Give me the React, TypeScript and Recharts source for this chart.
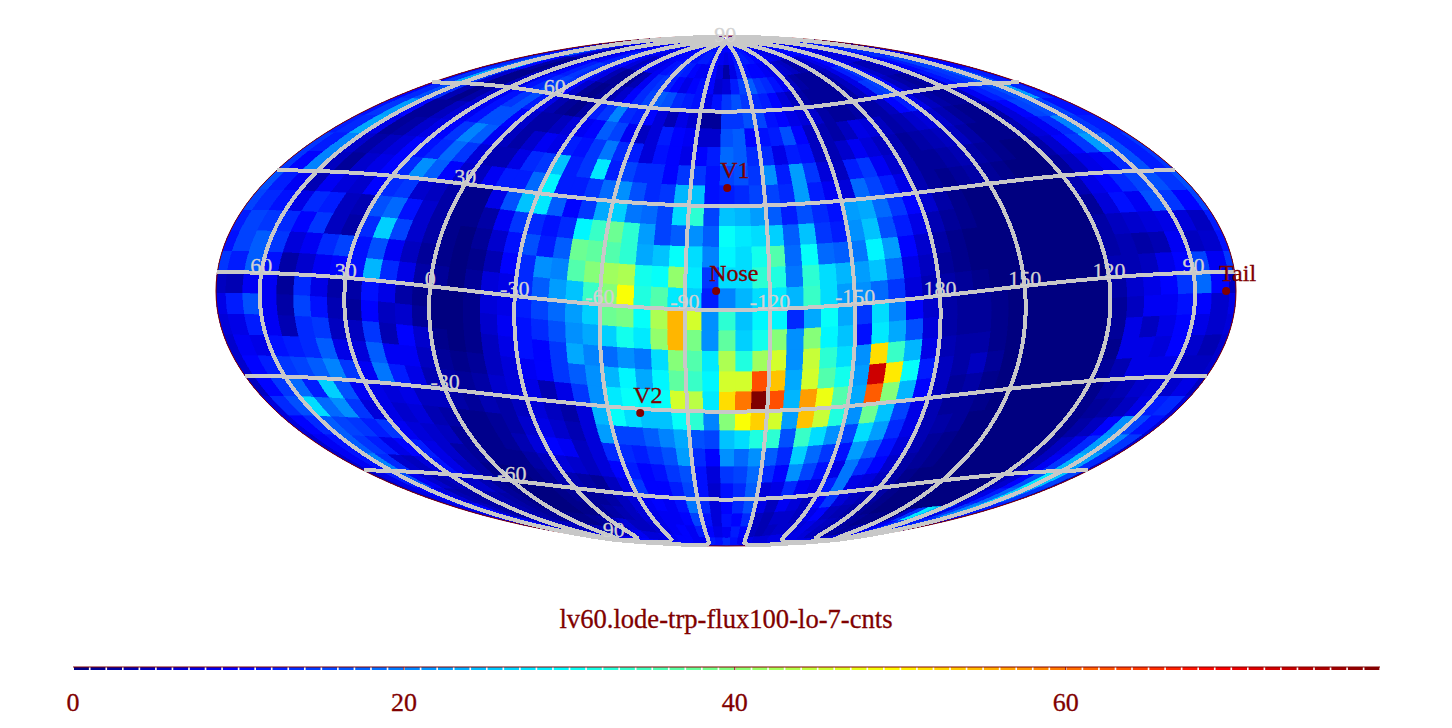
import { Bar, BarChart, Cell, ReferenceLine, Scatter, ScatterChart, XAxis, YAxis } from 'recharts'

const PAGE_W = 1452
const PAGE_H = 728
const UNIT = 255 // pixels per map unit, the ellipse is 4 x 2 units
const CENTER_Y = 291
const LON0 = -104.5
const TILT = (5.4 * Math.PI) / 180
const MAX_COUNT = 79

const DARK_RED = '#800000'
const GRID_GRAY = '#c8c8c8'
const SERIF = '"Liberation Serif", "Times New Roman", serif'

// counts per 6x6 degree bin, top row lat 90..84, first column lon 78..72, going left to right in the picture
const ROWS_NORTH = [
  [10,10,10,11,11,10,10,9,9,9,9,10,10,11,11,11,10,10,10,10, 10,10,10,11,11,11,11,11,11,10,10,10,11,11,11,11,10,10,10,10,10, 10,10,10,10,10,11,11,11,10,10,10,10,11,11,11,11,11,10,10],
  [9,10,12,14,13,10,7,6,7,8,9,10,12,13,11,9,8,9,10,10, 10,10,11,11,11,12,12,11,10,9,8,9,11,12,12,11,10,10,9,9,8, 8,8,9,10,10,11,11,10,9,9,9,10,11,11,12,12,11,10,9],
  [8,11,14,20,16,8,4,3,5,8,10,12,13,12,10,7,5,7,10,8, 9,11,12,13,12,10,9,9,10,7,3,8,12,11,10,10,9,8,7,6,5, 3,4,5,6,8,10,11,9,8,7,8,9,10,11,13,13,12,11,9],
  [8,13,18,28,10,3,1,3,6,10,12,14,13,11,8,4,2,2,2,4, 9,13,14,12,10,8,10,11,10,6,7,12,15,17,14,13,11,9,5,3,2, 2,2,3,5,8,12,14,10,6,4,4,6,9,10,12,15,15,13,10],
  [9,14,23,14,6,1,1,5,8,11,13,15,14,10,6,2,1,2,4,6, 10,13,15,17,16,13,12,11,8,11,14,16,14,13,12,10,7,5,3,2,2, 2,2,3,5,8,14,15,10,5,3,2,3,7,11,13,14,17,16,12],
  [10,13,16,13,4,1,3,6,9,11,14,16,12,8,4,2,1,3,12,14, 20,13,12,10,7,4,8,6,2,2,14,14,16,15,11,10,8,7,6,3,2, 2,3,3,3,5,10,12,8,5,3,2,2,5,9,12,14,16,22,13],
  [11,14,22,10,2,2,5,7,9,11,16,16,10,6,3,3,5,7,9,10, 17,15,9,5,7,12,10,9,6,6,16,17,10,11,12,16,10,5,4,3,5, 8,7,5,3,4,6,7,6,4,2,1,1,3,7,10,15,16,15,11],
  [12,13,23,8,2,3,6,8,10,14,20,17,9,5,3,6,9,8,12,11, 14,19,13,12,7,11,10,8,10,12,18,17,13,13,8,12,11,5,4,6,9, 7,5,4,2,3,4,5,5,3,1,1,1,4,7,9,13,20,14,12],
  [14,12,20,6,3,5,7,10,11,13,18,14,7,4,4,8,13,14,25,12, 14,28,12,15,13,13,10,14,14,11,15,16,14,21,12,22,14,7,5,12,14, 9,6,4,2,2,3,4,3,2,1,0,0,3,6,10,14,22,16,12],
  [14,10,20,5,2,6,8,10,13,21,17,10,6,5,9,12,12,18,29,12, 12,14,18,21,16,13,14,24,25,11,12,13,15,15,13,22,12,9,7,18,15, 12,8,4,2,1,2,3,2,1,0,0,0,2,5,8,9,13,16,12],
  [16,12,9,4,9,7,6,10,13,14,6,5,3,1,1,8,16,25,28,17, 10,14,23,26,19,18,15,27,33,15,25,24,22,17,12,16,13,11,22,23,18, 14,10,6,3,1,0,0,0,0,0,0,0,4,8,10,13,15,16,14],
  [15,13,11,8,13,12,5,4,16,18,11,6,3,1,1,3,9,14,13,11, 13,29,34,38,33,22,15,17,21,17,30,28,27,26,17,25,14,12,21,25,16, 12,8,4,2,1,0,0,0,0,0,0,0,2,7,11,9,16,14,10],
  [12,15,14,13,10,14,5,3,13,26,15,6,3,1,0,2,6,11,16,12, 17,38,37,36,33,23,25,30,27,20,29,27,31,36,18,30,18,17,19,29,22, 10,6,3,1,0,0,0,0,0,0,0,0,3,5,6,7,8,7,5],
  [11,15,17,14,7,9,13,15,11,16,9,5,2,1,0,1,4,10,13,21, 20,36,40,42,43,31,30,41,28,14,27,27,33,32,19,33,27,24,22,25,18, 8,5,2,1,0,0,0,0,0,0,0,0,3,4,3,4,9,5,6],
  [14,12,17,11,3,6,9,10,11,24,13,8,3,2,0,2,7,8,13,17, 22,25,34,40,49,32,36,28,26,12,20,24,27,28,24,34,27,22,21,18,14, 7,4,3,2,1,0,0,0,0,0,0,0,4,4,5,8,10,15,9],
]

const ROWS_SOUTH = [
  [5,4,9,9,2,13,8,3,3,11,8,3,1,0,0,1,7,8,12,15, 18,22,26,38,39,30,43,55,46,21,33,25,29,29,13,23,30,23,14,27,20, 10,6,3,2,2,1,0,0,0,0,0,0,3,6,8,10,14,18,10],
  [8,12,16,9,3,15,11,4,2,10,5,6,2,0,0,1,6,9,11,13, 16,21,23,26,31,28,41,55,39,21,37,26,31,40,21,40,29,25,11,28,23, 16,7,3,2,2,1,0,0,0,0,0,0,2,5,9,9,11,10,6],
  [7,8,12,9,4,13,14,5,5,14,4,10,6,1,0,1,5,8,11,10, 14,23,20,18,21,19,27,40,36,28,43,32,42,46,21,45,33,27,21,52,34, 24,8,4,3,3,1,0,0,0,0,0,0,2,8,5,8,10,8,6],
  [6,9,8,11,12,13,17,8,7,17,9,9,5,2,1,2,5,7,9,10, 14,17,21,24,29,23,29,37,34,29,46,46,63,54,23,46,36,31,22,73,51, 30,12,5,3,5,2,0,0,0,0,0,0,1,8,8,7,10,6,4],
  [6,10,12,14,15,17,20,14,9,19,12,8,4,3,2,3,6,7,8,4, 8,14,21,28,30,29,30,46,44,28,52,60,79,63,24,57,48,36,23,62,40, 24,10,5,2,3,1,0,0,0,0,0,0,2,4,8,8,8,5,5],
  [5,10,14,18,12,26,16,9,8,7,8,5,5,3,2,4,3,5,7,5, 3,7,24,30,27,25,25,30,33,20,40,49,53,46,22,54,45,32,21,38,25, 15,8,4,2,2,1,0,0,0,0,0,0,1,3,4,6,7,6,8],
  [7,13,16,27,18,21,14,7,8,6,7,4,3,1,1,2,3,6,8,6, 4,7,22,15,15,17,20,23,16,15,25,27,32,33,16,34,27,21,15,27,22, 13,8,4,3,2,0,0,0,0,0,0,0,1,2,3,5,8,12,13],
  [7,10,13,17,15,14,12,14,9,7,6,5,2,1,1,2,4,7,10,9, 5,7,13,13,12,14,16,22,13,10,21,18,21,17,13,26,18,14,11,22,17, 11,7,4,2,1,0,0,0,0,0,0,0,1,3,5,10,21,15,11],
  [6,9,11,17,14,12,8,10,12,8,6,3,2,1,1,1,3,5,7,6, 5,7,10,12,10,11,14,16,11,7,14,15,18,13,10,21,15,11,8,19,13, 10,6,3,2,1,0,0,0,0,0,0,0,2,5,8,13,22,20,14],
  [6,9,11,20,13,6,5,7,11,8,5,3,1,0,0,1,2,4,4,3, 2,5,8,14,10,10,12,15,11,6,11,13,17,7,8,13,9,8,12,19,8, 7,5,3,1,0,0,0,0,0,0,0,0,3,5,9,14,24,22,13],
  [5,8,12,16,9,6,4,5,6,6,4,2,1,0,0,0,1,2,2,2, 3,5,7,9,10,9,11,19,13,7,10,13,16,8,5,9,7,5,10,14,7, 5,4,3,1,0,0,0,0,0,0,0,0,4,6,10,16,28,25,15],
  [5,8,10,10,7,4,3,3,4,4,3,2,1,0,0,0,1,1,2,3, 4,5,7,8,9,9,10,15,11,7,11,10,13,5,4,6,6,5,8,10,5, 4,3,2,1,0,0,0,0,0,0,0,0,5,8,12,18,26,22,14],
  [6,8,12,18,10,5,3,3,4,4,3,2,2,1,1,1,2,3,5,7, 5,5,6,8,9,10,9,12,10,8,9,12,10,5,4,5,6,6,7,8,6, 5,4,3,2,1,1,0,0,6,14,28,24,16,8,14,20,24,18,12],
  [8,10,12,14,12,9,6,5,5,5,5,5,5,4,4,4,5,6,8,9, 7,7,8,9,10,10,9,9,12,11,13,11,9,8,7,7,8,8,8,8,7, 5,4,3,3,2,3,4,6,8,10,14,16,15,12,12,14,16,14,10],
  [10,11,12,12,11,10,9,8,8,8,8,8,8,8,8,8,9,9,10,10, 10,10,10,10,11,11,11,11,11,11,11,11,10,10,9,9,9,9,9,8,8, 8,7,6,6,6,7,7,8,9,10,10,11,11,11,11,12,12,11,11],
]

const GRID_LATS = [-60, -30, 0, 30, 60]
const GRID_LONS = [-150, -120, -90, -60, -30, 0, 30, 60, 90, 120, 150, 180]
const LON_LABELS = [60, 30, 0, -30, -60, -90, -120, -150, 180, 150, 120, 90]
const LAT_LABELS = [
  { text: '90', lon: 0, lat: 89.9 },
  { text: '60', lon: 0, lat: 60 },
  { text: '30', lon: 0, lat: 30 },
  { text: '-30', lon: 0, lat: -30 },
  { text: '-60', lon: 0, lat: -60 },
  { text: '90', lon: 0, lat: -86.5 },
]
const MARKERS = [
  { name: 'V1', lon: -105, lat: 35.4 },
  { name: 'Nose', lon: -101, lat: 5.4 },
  { name: 'V2', lon: -72, lat: -31.3 },
  { name: 'Tail', lon: 79, lat: -5.4 },
]
const COLORBAR_TICKS = [0, 20, 40, 60]
const COLORBAR_LEVELS = Array.from({ length: MAX_COUNT }, (_, i) => ({ level: i + 0.5, h: 1 }))

const TITLE = 'lv60.lode-trp-flux100-lo-7-cnts'

function jet(t: number) {
  const c = (v: number) => Math.round(255 * Math.max(0, Math.min(1, v)))
  const r = 1.5 - Math.abs(4 * t - 3)
  const g = 1.5 - Math.abs(4 * t - 2)
  const b = 1.5 - Math.abs(4 * t - 1)
  return `rgb(${c(r)},${c(g)},${c(b)})`
}

// grid lon/lat to map lambda/phi, the grid is tilted about the horizontal axis
function toMap(lon: number, lat: number) {
  const dl = ((lon - LON0) * Math.PI) / 180
  const p = (lat * Math.PI) / 180
  const x = Math.cos(p) * Math.cos(dl)
  const y = Math.cos(p) * Math.sin(dl)
  const z = Math.sin(p)
  const x2 = x * Math.cos(TILT) + z * Math.sin(TILT)
  const z2 = -x * Math.sin(TILT) + z * Math.cos(TILT)
  return { lam: Math.atan2(y, x2), phi: Math.asin(Math.max(-1, Math.min(1, z2))) }
}

function mollweide(lam: number, phi: number) {
  let th = phi
  if (Math.abs(phi) > 1.5707) {
    th = Math.sign(phi) * (Math.PI / 2)
  } else {
    for (let i = 0; i < 40; i++) {
      const d = (2 * th + Math.sin(2 * th) - Math.PI * Math.sin(phi)) / (2 + 2 * Math.cos(2 * th) + 1e-9)
      th -= d
      if (Math.abs(d) < 1e-7) break
    }
  }
  return { x: (-2 * lam * Math.cos(th)) / Math.PI, y: Math.sin(th) }
}

function project(lon: number, lat: number) {
  const m = toMap(lon, lat)
  return mollweide(m.lam, m.phi)
}

function cellRing(lonA: number, lonB: number, latA: number, latB: number) {
  const ring: [number, number][] = []
  const n = 3
  for (let i = 0; i < n; i++) ring.push([lonA + ((lonB - lonA) * i) / n, latA])
  for (let i = 0; i < n; i++) ring.push([lonB, latA + ((latB - latA) * i) / n])
  for (let i = 0; i < n; i++) ring.push([lonB + ((lonA - lonB) * i) / n, latB])
  for (let i = 0; i < n; i++) ring.push([lonA, latB + ((latA - latB) * i) / n])
  return ring
}

function buildCells() {
  const out: { x: number; y: number; count: number; verts: { x: number; y: number }[] }[] = []
  const rows = [...ROWS_NORTH, ...ROWS_SOUTH]
  rows.forEach((row, r) => {
    const latA = 90 - 6 * r
    const latB = latA - 6
    row.forEach((count, k) => {
      const lonA = 78 - 6 * k
      const lonB = lonA - 6
      const ring = cellRing(lonA, lonB, latA, latB).map(([lo, la]) => toMap(lo, la))
      const lams = ring.map((m) => m.lam)
      const straddles = Math.max(...lams) - Math.min(...lams) > Math.PI
      const variants = straddles
        ? [
            ring.map((m) => ({ lam: m.lam > 0 ? m.lam : Math.PI, phi: m.phi })),
            ring.map((m) => ({ lam: m.lam < 0 ? m.lam : -Math.PI, phi: m.phi })),
          ]
        : [ring]
      variants.forEach((v) => {
        const verts = v.map((m) => mollweide(m.lam, m.phi))
        const x = verts.reduce((s, p) => s + p.x, 0) / verts.length
        const y = verts.reduce((s, p) => s + p.y, 0) / verts.length
        out.push({ x, y, count, verts })
      })
    })
  })
  return out
}

const cellData = buildCells()
const outlineData = Array.from({ length: 181 }, (_, i) => {
  const a = (i / 180) * 2 * Math.PI
  return { x: 2 * Math.cos(a), y: Math.sin(a) }
})
const latLines = GRID_LATS.map((lat) =>
  Array.from({ length: 145 }, (_, i) => project(LON0 + 180 - 2.5 * i, lat)),
)
const lonLines = GRID_LONS.map((lon) =>
  Array.from({ length: 91 }, (_, i) => project(lon, -90 + 2 * i)),
)
const lonLabelData = LON_LABELS.map((lon) => ({ ...project(lon, 0), text: String(lon) }))
const latLabelData = LAT_LABELS.map((l) => ({ ...project(l.lon, l.lat), text: l.text }))
const markerData = MARKERS.map((m) => ({ ...project(m.lon, m.lat), name: m.name }))

const gridLine = { stroke: GRID_GRAY, strokeWidth: 4, shapeRendering: 'crispEdges' }

function CellShape(props: any) {
  const { cx, cy, payload } = props
  const pts = payload.verts
    .map((v: { x: number; y: number }) => `${cx + (v.x - payload.x) * UNIT},${cy - (v.y - payload.y) * UNIT}`)
    .join(' ')
  const fill = jet(payload.count / MAX_COUNT)
  return <polygon points={pts} fill={fill} stroke={fill} strokeWidth={0.6} shapeRendering="crispEdges" />
}

const NoDot = () => <g />

function GridLabel(props: any) {
  const { cx, cy, payload } = props
  return (
    <text x={cx} y={cy} textAnchor="middle" fill="#d2d2d2" stroke="#d2d2d2" strokeWidth={0.3} fontFamily={SERIF} fontSize={22}>
      {payload.text}
    </text>
  )
}

function Marker(props: any) {
  const { cx, cy, payload } = props
  return (
    <g>
      <circle cx={cx} cy={cy} r={4} fill={DARK_RED} />
      <text x={cx - 7} y={cy - 10} fill={DARK_RED} stroke={DARK_RED} strokeWidth={0.3} fontFamily={SERIF} fontSize={24}>
        {payload.name}
      </text>
    </g>
  )
}

export default function App() {
  const xSpan = PAGE_W / 2 / UNIT
  return (
    <div style={{ position: 'absolute', left: 0, top: 0, width: PAGE_W, height: PAGE_H, background: '#fff', overflow: 'hidden' }}>
      <ScatterChart width={PAGE_W} height={PAGE_H} margin={{ top: 0, right: 0, bottom: 0, left: 0 }}>
        <XAxis hide type="number" dataKey="x" domain={[-xSpan, xSpan]} allowDataOverflow />
        <YAxis hide type="number" dataKey="y" domain={[(CENTER_Y - PAGE_H) / UNIT, CENTER_Y / UNIT]} allowDataOverflow />
        <Scatter data={cellData} shape={CellShape} isAnimationActive={false} />
        <Scatter data={outlineData} line={{ stroke: DARK_RED, strokeWidth: 1 }} shape={NoDot} isAnimationActive={false} />
        {latLines.map((d, i) => (
          <Scatter key={`lat${i}`} data={d} line={gridLine} shape={NoDot} isAnimationActive={false} />
        ))}
        {lonLines.map((d, i) => (
          <Scatter key={`lon${i}`} data={d} line={gridLine} shape={NoDot} isAnimationActive={false} />
        ))}
        <Scatter data={lonLabelData} shape={GridLabel} isAnimationActive={false} />
        <Scatter data={latLabelData} shape={GridLabel} isAnimationActive={false} />
        <Scatter data={markerData} shape={Marker} isAnimationActive={false} />
      </ScatterChart>

      <div style={{ position: 'absolute', left: 0, top: 604, width: PAGE_W, textAlign: 'center', color: DARK_RED, fontFamily: SERIF, fontSize: 26.6, WebkitTextStroke: '0.3px #800000' }}>
        {TITLE}
      </div>

      <div style={{ position: 'absolute', left: 0, top: 660 }}>
        <BarChart width={PAGE_W} height={68} data={COLORBAR_LEVELS} margin={{ top: 7, right: 72, bottom: 0, left: 73 }} barCategoryGap={0}>
          <XAxis
            type="number"
            dataKey="level"
            domain={[0, MAX_COUNT]}
            ticks={COLORBAR_TICKS}
            interval={0}
            height={58}
            axisLine={false}
            tickLine={false}
            tickMargin={17}
            tick={{ fill: DARK_RED, stroke: DARK_RED, strokeWidth: 0.3, fontFamily: SERIF, fontSize: 26 }}
          />
          <YAxis hide domain={[0, 1]} />
          <Bar dataKey="h" barSize={18} isAnimationActive={false}>
            {COLORBAR_LEVELS.map((d) => (
              <Cell key={d.level} fill={jet(d.level / MAX_COUNT)} />
            ))}
          </Bar>
          <ReferenceLine y={1} stroke={DARK_RED} />
          {COLORBAR_TICKS.slice(1).map((t) => (
            <ReferenceLine key={t} x={t} stroke={DARK_RED} />
          ))}
        </BarChart>
      </div>
    </div>
  )
}
